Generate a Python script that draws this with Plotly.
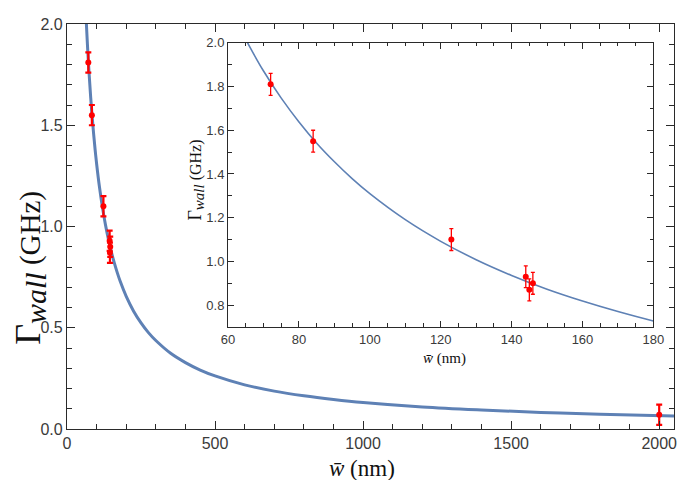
import plotly.graph_objects as go

# measured data
w_nm = [72, 84, 123, 144, 145, 146, 2000]
gamma_ghz = [1.81, 1.55, 1.10, 0.93, 0.87, 0.90, 0.07]
gamma_err = [0.05, 0.05, 0.05, 0.05, 0.05, 0.05, 0.05]

# fitted curve
w_fit = [64, 66, 70, 75, 80, 85, 90, 95, 100, 110, 120, 130, 140, 150, 160, 170, 180,
         200, 225, 250, 275, 300, 350, 400, 450, 500, 600, 700, 800, 900, 1000, 1200, 1400,
         1600, 1800, 2050]
gamma_fit = [2.047, 1.985, 1.871, 1.747, 1.638, 1.541, 1.456, 1.379, 1.31, 1.191, 1.092, 1.008,
             0.936, 0.873, 0.819, 0.771, 0.728, 0.655, 0.582, 0.524, 0.476, 0.437, 0.374, 0.328,
             0.291, 0.262, 0.218, 0.187, 0.164, 0.146, 0.131, 0.109, 0.094, 0.082, 0.073, 0.064]

main_xticks = [0, 500, 1000, 1500, 2000]
main_yticks = [0.0, 0.5, 1.0, 1.5, 2.0]
inset_xticks = [60, 80, 100, 120, 140, 160, 180]
inset_yticks = [0.8, 1.0, 1.2, 1.4, 1.6, 1.8, 2.0]

BLUE = "#5E81B5"
RED = "#FF0000"
AX = "#2a2a2a"
TICKFONT = "#3a3a3a"

fig = go.Figure()

fig.add_trace(go.Scatter(x=w_fit, y=gamma_fit, mode="lines", line=dict(color=BLUE, width=3, shape="spline"),
                         xaxis="x", yaxis="y", showlegend=False, hoverinfo="skip"))
fig.add_trace(go.Scatter(x=w_nm, y=gamma_ghz, mode="markers",
                         marker=dict(color=RED, size=6),
                         error_y=dict(type="data", array=gamma_err, color=RED, thickness=2.2, width=3),
                         xaxis="x", yaxis="y", showlegend=False))

fig.add_trace(go.Scatter(x=w_fit, y=gamma_fit, mode="lines", line=dict(color=BLUE, width=1.6, shape="spline"),
                         xaxis="x2", yaxis="y2", showlegend=False, hoverinfo="skip"))
fig.add_trace(go.Scatter(x=w_nm, y=gamma_ghz, mode="markers",
                         marker=dict(color=RED, size=6),
                         error_y=dict(type="data", array=gamma_err, color=RED, thickness=1.3, width=2),
                         xaxis="x2", yaxis="y2", showlegend=False))


def axis(rng, vals, major_len, minor_dtick, minor_len, font_size, fmt=None, **kw):
    d = dict(range=rng, tickvals=vals, showgrid=False, zeroline=False, showline=True,
             linecolor=AX, linewidth=1.2, mirror="allticks", ticks="inside",
             ticklen=major_len, tickcolor=AX, tickwidth=1.2,
             minor=dict(dtick=minor_dtick, ticks="inside", ticklen=minor_len, tickcolor=AX, tickwidth=1),
             tickfont=dict(family="Liberation Sans", size=font_size, color=TICKFONT))
    if fmt:
        d["tickformat"] = fmt
    d.update(kw)
    return d


fig.update_layout(
    width=685, height=480,
    margin=dict(l=59, r=8, t=12, b=59),
    paper_bgcolor="white", plot_bgcolor="white", showlegend=False,
    xaxis=axis([0, 2050], main_xticks, 8, 100, 4.5, 16),
    yaxis=axis([0, 2.0], main_yticks, 8, 0.1, 4.5, 16, ".1f"),
    xaxis2=axis([60, 180], inset_xticks, 6, 5, 3.5, 13, domain=[0.2654, 0.966], anchor="y2"),
    yaxis2=axis([0.7, 2.0], inset_yticks, 6, 0.1, 3.5, 13, ".1f", domain=[0.2518, 0.9535], anchor="x2"),
)

SERIF = "Liberation Serif"
fig.add_annotation(text="<i>w\u0304</i> (nm)", xref="paper", yref="paper", x=0.4286, y=-0.097,
                   xanchor="left", yanchor="middle", showarrow=False,
                   font=dict(family=SERIF, size=23, color="#111"))
fig.add_annotation(text="<span style='font-size:36px'>\u0393</span><sub><span style='font-size:30px'><i>wall</i></span></sub> (GHz)",
                   xref="paper", yref="paper", x=-0.06, y=0.397,
                   xanchor="center", yanchor="middle", showarrow=False, textangle=-90,
                   font=dict(family=SERIF, size=29, color="#111"))
fig.add_annotation(text="<i>w\u0304</i> (nm)", xref="paper", yref="paper", x=0.583, y=0.173,
                   xanchor="left", yanchor="middle", showarrow=False,
                   font=dict(family=SERIF, size=15, color="#111"))
fig.add_annotation(text="<span style='font-size:18px'>\u0393</span><sub><span style='font-size:15px'><i>wall</i></span></sub> (GHz)",
                   xref="paper", yref="paper", x=0.213, y=0.614,
                   xanchor="center", yanchor="middle", showarrow=False, textangle=-90,
                   font=dict(family=SERIF, size=16, color="#111"))

fig.write_html("out.html")
